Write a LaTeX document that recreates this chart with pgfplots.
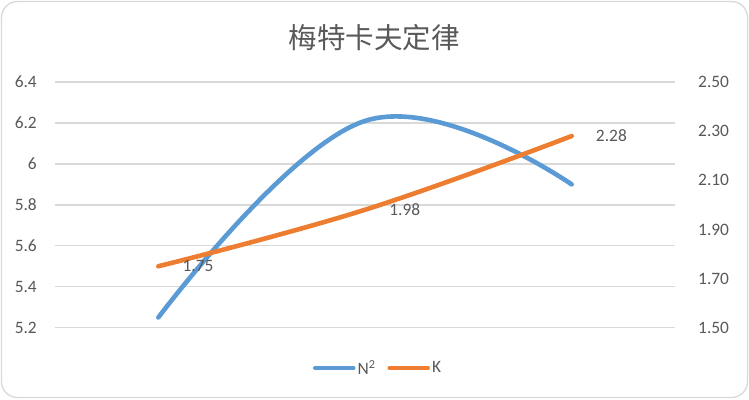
\documentclass[border=0pt]{standalone}
\usepackage{fontspec}
\setmainfont{Carlito}
\newfontfamily\cjk{Noto Sans CJK SC}
\usepackage{pgfplots}
\pgfplotsset{compat=1.18}
\definecolor{exblue}{HTML}{5B9BD5}
\definecolor{exorange}{HTML}{ED7D31}
\definecolor{txt}{HTML}{595959}
\definecolor{gridc}{HTML}{D9D9D9}
\newcommand{\lblfont}{\fontsize{17.4bp}{20bp}\selectfont}
\begin{document}
\begin{tikzpicture}[x=1bp,y=1bp]
\useasboundingbox (0,0) rectangle (749,399);
\fill[white] (0,0) rectangle (749,399);
\draw[gridc, line width=1.3bp, rounded corners=16bp] (1.5,1.5) rectangle (747.5,397.5);
\node[text=txt, font=\cjk\fontsize{28.5bp}{31bp}\selectfont] at (374,361) {梅特卡夫定律};

\begin{axis}[
  at={(55bp,71.3bp)}, anchor=south west,
  scale only axis, width=620bp, height=245.7bp,
  xmin=0.5, xmax=3.5, ymin=5.2, ymax=6.4,
  xtick=\empty, ytick={5.2,5.4,5.6,5.8,6,6.2,6.4},
  axis line style={draw=none}, major tick length=0pt,
  ymajorgrids, grid style={gridc, line width=1.3bp},
  /pgf/number format/assume math mode=true,
  yticklabel style={font=\lblfont, text=txt, inner sep=0pt, anchor=east},
  yticklabel shift=18bp,
  legend style={at={(0.521,-0.164)}, anchor=center, draw=none, fill=none,
    legend columns=2, font=\lblfont, text=txt, inner sep=0pt,
    /tikz/every even column/.append style={column sep=10bp}},
  legend image code/.code={\draw[#1] (0bp,0bp) -- (38bp,0bp);},
]
\addplot[exblue, line width=4.6bp, line cap=round, smooth, tension=0.68] coordinates {(1,5.25) (2,6.21) (3,5.9)};
\addlegendentry{N\textsuperscript{2}}
\addlegendimage{exorange, line width=4.6bp, line cap=round}
\addlegendentry{K}
\end{axis}

\begin{axis}[
  at={(55bp,71.3bp)}, anchor=south west,
  scale only axis, width=620bp, height=245.7bp,
  xmin=0.5, xmax=3.5, ymin=1.5, ymax=2.5,
  axis x line=none, axis y line*=right,
  ytick={1.5,1.7,1.9,2.1,2.3,2.5},
  axis line style={draw=none}, major tick length=0pt,
  /pgf/number format/fixed, /pgf/number format/fixed zerofill,
  /pgf/number format/precision=2,
  /pgf/number format/assume math mode=true,
  yticklabel style={font=\lblfont, text=txt, inner sep=0pt, anchor=west},
  yticklabel shift=23bp,
]
\addplot[exorange, line width=4.6bp, line cap=round, smooth, tension=0.68,
  nodes near coords, point meta=explicit symbolic,
  every node near coord/.append style={anchor=west, xshift=22bp, inner sep=0pt, text=txt, font=\lblfont}]
  coordinates {(1,1.75) [1.75] (2,1.98) [1.98] (3,2.28) [2.28]};
\end{axis}
\end{tikzpicture}
\end{document}
